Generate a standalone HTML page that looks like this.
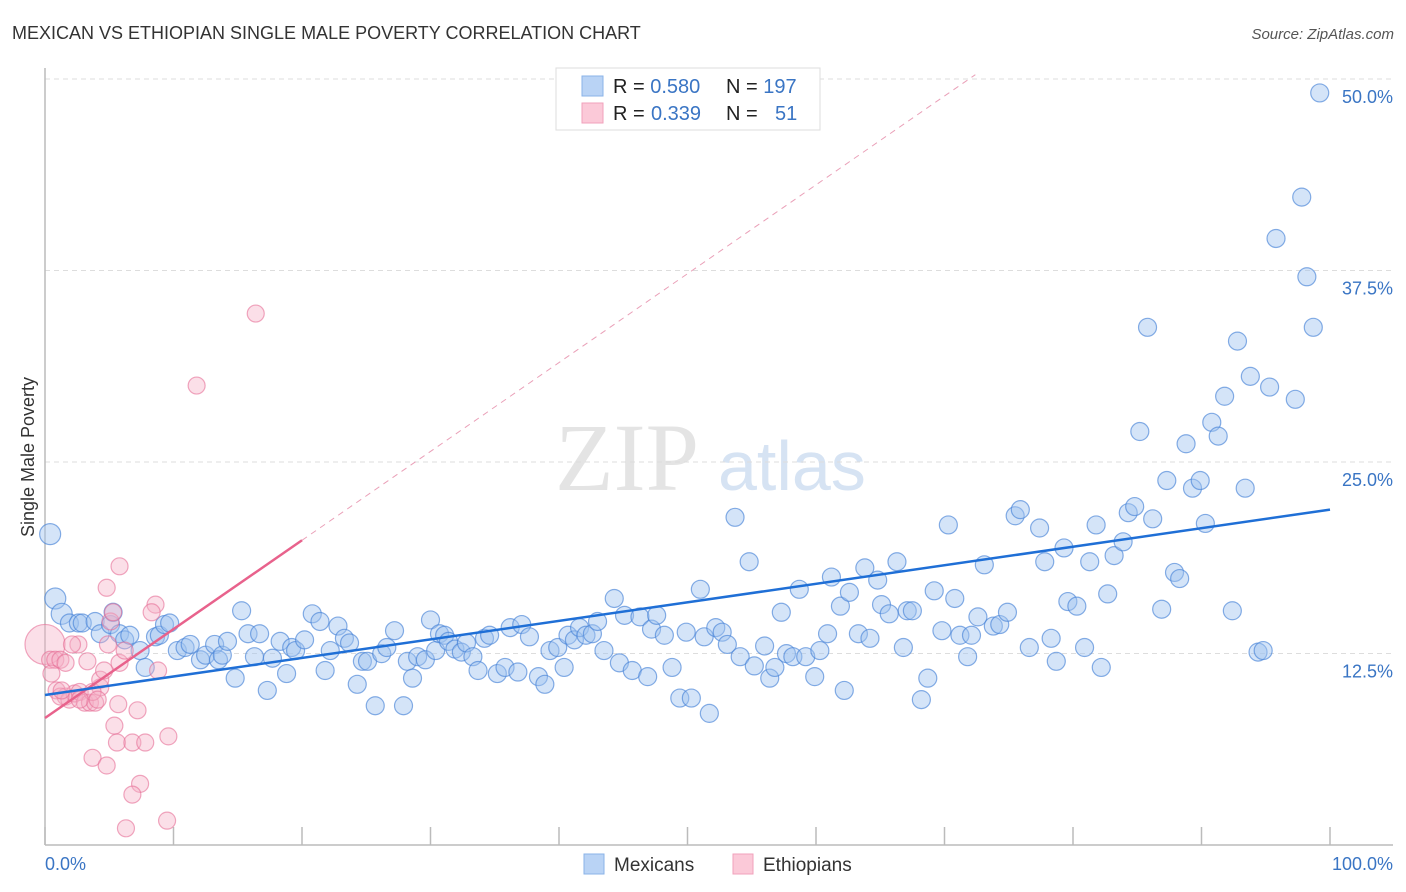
<!DOCTYPE html>
<html><head><meta charset="utf-8"><style>
body{margin:0;background:#fff;font-family:"Liberation Sans",sans-serif;}
svg{display:block}
</style></head><body>
<svg id="chart" width="1406" height="892" xmlns="http://www.w3.org/2000/svg">
<text x="12" y="39" font-size="18" fill="#333">MEXICAN VS ETHIOPIAN SINGLE MALE POVERTY CORRELATION CHART</text>
<text x="1394" y="39" font-size="15" fill="#555" font-style="italic" text-anchor="end">Source: ZipAtlas.com</text>
<text x="34" y="457" font-size="18" fill="#333" text-anchor="middle" transform="rotate(-90 34 457)">Single Male Poverty</text>
<g><text x="555" y="490" font-size="96" font-family="Liberation Serif,serif" fill="#e4e4e4">ZIP</text><text x="718" y="490" font-size="70" fill="#d6e3f3">atlas</text></g>
<g id="grid"></g>
<line x1="45" y1="68" x2="45" y2="845" stroke="#bbb" stroke-width="1.5"/>
<line x1="45" y1="845" x2="1393" y2="845" stroke="#bbb" stroke-width="1.5"/>
<g id="xticks"></g>
<g id="pts"></g>
<g id="lines"></g>
<text x="45" y="870" font-size="18" fill="#3a75c4">0.0%</text>
<text x="1393" y="870" font-size="18" fill="#3a75c4" text-anchor="end">100.0%</text>
<g>
<rect x="556" y="68" width="264" height="62" fill="#fff" stroke="#ddd"/>
<rect x="582" y="76" width="21" height="20" fill="#b9d3f5" stroke="#8ab3e8"/>
<rect x="582" y="103" width="21" height="20" fill="#fbc9d8" stroke="#f0a1bb"/>
<text x="613" y="93" font-size="20" fill="#222">R = <tspan fill="#3a75c4">0.580</tspan><tspan x="726">N = </tspan><tspan fill="#3a75c4">197</tspan></text>
<text x="613" y="120" font-size="20" fill="#222">R = <tspan fill="#3a75c4" x="651">0.339</tspan><tspan x="726">N = </tspan><tspan fill="#3a75c4" x="775">51</tspan></text>
</g>
<g>
<rect x="584" y="854" width="20" height="20" fill="#b9d3f5" stroke="#8ab3e8"/>
<text x="614" y="871" font-size="19" fill="#333">Mexicans</text>
<rect x="733" y="854" width="20" height="20" fill="#fbc9d8" stroke="#f0a1bb"/>
<text x="763" y="871" font-size="19" fill="#333">Ethiopians</text>
</g>
</svg>
<script>
const yTicks=[12.5,25,37.5,50];
const yTickLabels=["12.5%","25.0%","37.5%","50.0%"];
const xTicks=[0,10,20,30,40,50,60,70,80,90,100];
const blueX=[0.4,0.8,1.3,1.9,2.6,2.9,3.9,4.3,5.1,5.3,5.8,6.2,6.6,7.4,7.8,8.6,8.9,9.3,9.7,10.3,10.9,11.3,12.1,12.5,13.2,13.5,13.8,14.2,14.8,15.3,15.8,16.3,16.7,17.3,17.7,18.3,18.8,19.2,19.5,20.2,20.8,21.4,21.8,22.2,22.8,23.3,23.7,24.3,24.7,25.1,25.7,26.2,26.6,27.2,27.9,28.2,28.6,29.0,29.6,30.0,30.4,30.7,31.1,31.4,31.9,32.4,32.8,33.3,33.7,34.2,34.6,35.2,35.8,36.2,36.8,37.1,37.7,38.4,38.9,39.3,39.9,40.4,40.7,41.2,41.6,42.1,42.6,43.0,43.5,44.3,44.7,45.1,45.7,46.3,46.9,47.2,47.6,48.2,48.8,49.4,49.9,50.3,51.0,51.3,51.7,52.2,52.7,53.1,53.7,54.1,54.8,55.2,56.0,56.4,56.8,57.3,57.7,58.2,58.7,59.2,59.9,60.3,60.9,61.2,61.9,62.2,62.6,63.3,63.8,64.2,64.8,65.1,65.7,66.3,66.8,67.1,67.5,68.2,68.7,69.2,69.8,70.3,70.8,71.2,71.8,72.1,72.6,73.1,73.8,74.3,74.9,75.5,75.9,76.6,77.4,77.8,78.3,78.7,79.3,79.6,80.3,80.9,81.3,81.8,82.2,82.7,83.2,83.9,84.3,84.8,85.2,85.8,86.2,86.9,87.3,87.9,88.3,88.8,89.3,89.9,90.3,90.8,91.3,91.8,92.4,92.8,93.4,93.8,94.4,94.8,95.3,95.8,97.3,97.8,98.2,98.7,99.2];
const blueY=[21.4,17.2,16.2,15.6,15.6,15.6,15.7,14.9,15.5,16.3,14.9,14.5,14.8,13.8,12.7,14.7,14.8,15.5,15.6,13.8,14.0,14.2,13.2,13.5,14.2,13.2,13.5,14.4,12.0,16.4,14.9,13.4,14.9,11.2,13.3,14.4,12.3,14.0,13.8,14.5,16.2,15.7,12.5,13.8,15.4,14.6,14.3,11.6,13.1,13.1,10.2,13.6,14.0,15.1,10.2,13.1,12.0,13.4,13.2,15.8,13.8,14.9,14.8,14.4,13.9,13.7,14.3,13.4,12.5,14.6,14.8,12.3,12.7,15.3,12.4,15.5,14.7,12.1,11.6,13.8,14.0,12.7,14.8,14.5,15.3,14.8,14.9,15.7,13.8,17.2,13.0,16.1,12.5,16.0,12.1,15.2,16.1,14.8,12.7,10.7,15.0,10.7,17.8,14.7,9.7,15.3,15.0,14.2,22.5,13.4,19.6,12.8,14.1,12.0,12.7,16.3,13.6,13.4,17.8,13.4,12.1,13.8,14.9,18.6,16.7,11.2,17.6,14.9,19.2,14.6,18.4,16.8,16.2,19.6,14.0,16.4,16.4,10.6,12.0,17.7,15.1,22.0,17.2,14.8,13.4,14.8,16.0,19.4,15.4,15.5,16.3,22.6,23.0,14.0,21.8,19.6,14.6,13.1,20.5,17.0,16.7,14.0,19.6,22.0,12.7,17.5,20.0,20.9,22.8,23.2,28.1,34.9,22.4,16.5,24.9,18.9,18.5,27.3,24.4,24.9,22.1,28.7,27.8,30.4,16.4,34.0,24.4,31.7,13.7,13.8,31.0,40.7,30.2,43.4,38.2,34.9,50.2];
const pinkX=[0,0.4,0.8,1.2,1.6,0.5,0.9,1.6,1.9,2.3,2.7,3.1,3.5,3.9,4.3,2.6,3.3,3.7,4.3,4.6,4.9,5.1,5.3,5.7,5.8,6.2,5.4,5.6,5.8,3.7,4.8,6.8,7.2,7.8,8.6,8.3,8.8,9.6,9.5,7.4,6.8,6.3,4.8,11.8,16.4,2.1,2.7,1.2,4.1,1.3];
const pinkY=[14.2,13.2,13.2,13.2,13.0,12.3,11.2,10.8,10.6,11.0,11.1,10.4,10.4,10.4,11.4,14.2,13.1,11.1,11.9,12.5,14.2,15.7,16.3,10.3,13.0,13.8,8.9,7.8,19.3,6.8,6.3,7.8,9.9,7.8,16.8,16.3,12.5,8.2,2.7,5.1,4.4,2.2,17.9,31.1,35.8,14.2,10.6,10.8,10.6,11.2];
const blueTrend=[10.9,23.0];
const pinkTrend=[9.4,21.0];
const NS="http://www.w3.org/2000/svg";
const X0=45,XS=12.85,Y0=862,YS=15.32,GRID_OFF=17;
function toX(v){return X0+v*XS;}
function toY(v){return Y0-v*YS;}
function mk(t,a,p){const e=document.createElementNS(NS,t);for(const k in a)e.setAttribute(k,a[k]);p.appendChild(e);return e;}
const grid=document.getElementById('grid');
yTicks.forEach((t,i)=>{
 const gy=toY(t)-GRID_OFF;
 const l=mk('line',{x1:45,x2:1393,y1:gy,y2:gy,stroke:'#ddd','stroke-dasharray':'5,4'},grid);
 
 
 const tx=mk('text',{x:1393,y:gy+24,'font-size':18,fill:'#3a75c4','text-anchor':'end'},grid);
 tx.textContent=yTickLabels[i];
 
 
});
const xt=document.getElementById('xticks');
xTicks.forEach(t=>{
 const l=mk('line',{x1:toX(t),x2:toX(t),y1:827,y2:845,stroke:'#bbb','stroke-width':1.5},xt);
 
 
});
const pts=document.getElementById('pts');
blueX.forEach((x,i)=>{
 const c=mk('circle',{cx:toX(x),cy:toY(blueY[i]),r:i<3?10.5:9,fill:'rgba(160,195,240,0.45)',stroke:'rgba(70,130,215,0.65)','stroke-width':1.2},pts);
 
 
});
pinkX.forEach((x,i)=>{
 const c=mk('circle',{cx:toX(x),cy:toY(pinkY[i]),r:i==0?20:8.5,fill:'rgba(245,175,198,0.4)',stroke:'rgba(230,110,150,0.6)','stroke-width':1.2},pts);
 
 
});
const ln=document.getElementById('lines');
const slope=(pinkTrend[1]-pinkTrend[0])/20;
let e=mk('line',{x1:toX(20),y1:toY(pinkTrend[1]),x2:toX(72.4),y2:toY(pinkTrend[0]+slope*72.4),stroke:'#eaa0b8','stroke-width':1,'stroke-dasharray':'6,5'},ln);


e=mk('line',{x1:toX(0),y1:toY(pinkTrend[0]),x2:toX(20),y2:toY(pinkTrend[1]),stroke:'#e8628c','stroke-width':2.5},ln);


e=mk('line',{x1:toX(0),y1:toY(blueTrend[0]),x2:toX(100),y2:toY(blueTrend[1]),stroke:'#1f6fd6','stroke-width':2.5},ln);


</script>
</body></html>
